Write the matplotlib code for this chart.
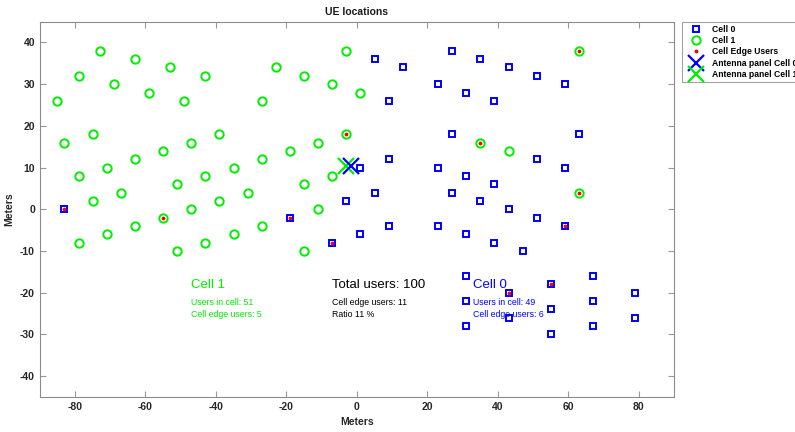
import numpy as np
import matplotlib.pyplot as plt

plt.rcParams['font.family'] = ['Liberation Sans', 'DejaVu Sans']
plt.rcParams['axes.unicode_minus'] = False

# UE positions served by cell 0
cell0_x = [-83, -19, -7, -3, 1, 1, 5, 5, 9, 9, 9, 13, 23, 23, 23, 27, 27, 27,
           31, 31, 31, 31, 31, 31, 35, 35, 39, 39, 39, 43, 43, 43, 43, 47,
           51, 51, 51, 55, 55, 55, 59, 59, 59, 63, 67, 67, 67, 79, 79]
cell0_y = [0, -2, -8, 2, 10, -6, 36, 4, 26, 12, -4, 34, 30, 10, -4, 38, 18, 4,
           28, 8, -6, -16, -22, -28, 36, 2, 26, 6, -8, 34, 0, -20, -26, -10,
           32, 12, -2, -18, -24, -30, 30, 10, -4, 18, -16, -22, -28, -20, -26]

# UE positions served by cell 1
cell1_x = [-85, -83, -79, -79, -79, -75, -75, -73, -71, -71, -69, -67, -63,
           -63, -63, -59, -55, -55, -53, -51, -51, -49, -47, -47, -43, -43,
           -43, -39, -39, -35, -35, -31, -27, -27, -27, -23, -19, -15, -15,
           -15, -11, -11, -7, -7, -3, -3, 1, 35, 43, 63, 63]
cell1_y = [26, 16, 32, 8, -8, 18, 2, 38, 10, -6, 30, 4, 36, 12, -4, 28, 14,
           -2, 34, 6, -10, 26, 16, 0, 32, 8, -8, 18, 2, 10, -6, 4, 26, 12,
           -4, 34, 14, 32, 6, -10, 16, 0, 30, 8, 38, 18, 28, 16, 14, 38, 4]

# cell edge users (both cells)
edge_x = [-83, -19, -7, 43, 55, 59, -55, -3, 35, 63, 63]
edge_y = [0, -2, -8, -20, -18, -4, -2, 18, 16, 38, 4]

# antenna panel positions
ant0 = (-1.6, 10.5)
ant1 = (-3.2, 10.5)

n_cell0 = len(cell0_x)
n_cell1 = len(cell1_x)
n_edge0 = 6
n_edge1 = 5
n_total = n_cell0 + n_cell1
n_edge = len(edge_x)

blue = '#0000ff'
green = '#00ee00'

fig = plt.figure(figsize=(7.95, 4.32), dpi=100)
ax = fig.add_axes([0.050, 0.081, 0.798, 0.869])

ax.plot(cell0_x, cell0_y, 's', color=blue, mfc='none', ms=4.2, mew=1.4,
        label='Cell 0', zorder=3)
ax.plot(cell1_x, cell1_y, 'o', color=green, mfc='none', ms=6, mew=1.4,
        label='Cell 1', zorder=3)
ax.plot(edge_x, edge_y, '.', color='red', ms=3.5, label='Cell Edge Users',
        zorder=4)
ax.plot(ant1[0], ant1[1], 'x', color=green, ms=12, mew=1.6, zorder=5)
ax.plot(ant0[0], ant0[1], 'x', color=blue, ms=12, mew=1.6, zorder=6)
# legend handles for the antennas (order: cell 0 then cell 1)
ax.plot([], [], 'x', color=blue, ms=12, mew=1.6, label='Antenna panel Cell 0')
ax.plot([], [], 'x', color=green, ms=12, mew=1.6, label='Antenna panel Cell 1')

# summary text
ax.text(-47, -18.2, 'Cell 1', color=green, fontsize=9.5, va='center')
ax.text(-47, -22.4, 'Users in cell: %d' % n_cell1, color=green, fontsize=6.3,
        va='center')
ax.text(-47, -25.2, 'Cell edge users: %d' % n_edge1, color=green,
        fontsize=6.3, va='center')

ax.text(-7, -18.2, 'Total users: %d' % n_total, color='black', fontsize=9.5,
        va='center')
ax.text(-7, -22.4, 'Cell edge users: %d' % n_edge, color='black',
        fontsize=6.3, va='center')
ax.text(-7, -25.2, 'Ratio %d %%' % round(100 * n_edge / n_total),
        color='black', fontsize=6.3, va='center')

ax.text(33, -18.2, 'Cell 0', color=blue, fontsize=9.5, va='center')
ax.text(33, -22.4, 'Users in cell: %d' % n_cell0, color=blue, fontsize=6.3,
        va='center')
ax.text(33, -25.2, 'Cell edge users: %d' % n_edge0, color=blue,
        fontsize=6.3, va='center')

ax.set_xlim(-90, 90)
ax.set_ylim(-45, 45)
ax.set_xticks(np.arange(-80, 81, 20))
ax.set_yticks(np.arange(-40, 41, 10))
ax.tick_params(direction='in', top=True, right=True, length=4, width=0.8,
               color='#999999', labelsize=7.5, labelcolor='#262626', pad=3.5)
for lbl in ax.get_xticklabels() + ax.get_yticklabels():
    lbl.set_fontweight('bold')
for sp in ax.spines.values():
    sp.set_color('#8c8c8c')
    sp.set_linewidth(0.8)

ax.set_title('UE locations', fontsize=7.5, fontweight='bold', pad=5,
             color='#1a1a1a')
ax.set_xlabel('Meters', fontsize=7.5, fontweight='bold', color='#262626',
              labelpad=4)
ax.set_ylabel('Meters', fontsize=7.5, fontweight='bold', color='#262626',
              labelpad=4)

leg = ax.legend(loc='upper left', bbox_to_anchor=(1.012, 1.0),
                prop={'weight': 'bold', 'size': 6.2}, frameon=True,
                fancybox=False, borderpad=0.35, labelspacing=0.28,
                handlelength=2.5, handletextpad=0.7, borderaxespad=0)
leg.get_frame().set_edgecolor('#8c8c8c')
leg.get_frame().set_linewidth(0.8)

fig.savefig('out.png', dpi=100)
